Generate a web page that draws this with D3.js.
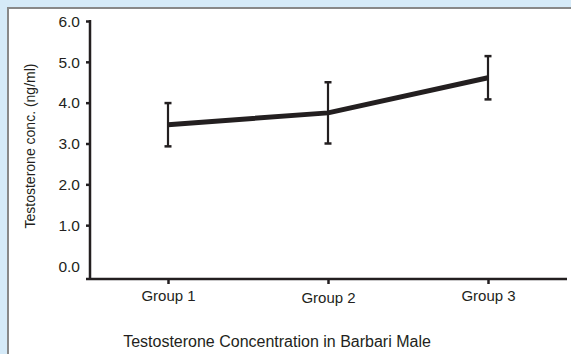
<!DOCTYPE html>
<html><head><meta charset="utf-8">
<script src="https://cdn.jsdelivr.net/npm/d3@7"></script>
<style>body{margin:0;background:#d5eaf8;}svg{display:block;}</style>
</head><body>
<script>
const groups = ["Group 1", "Group 2", "Group 3"];
const means = [3.46, 3.75, 4.61];
const errors = [0.53, 0.75, 0.53];
const yTicks = [0, 1, 2, 3, 4, 5, 6];
const yLabel = "Testosterone conc. (ng/ml)";
const title = "Testosterone Concentration in Barbari Male";

const W = 571, H = 354;
const svg = d3.select("body").append("svg").attr("width", W).attr("height", H);
svg.append("rect").attr("width", W).attr("height", H).attr("fill", "#d5eaf8");
svg.append("rect").attr("x", 8).attr("y", 8).attr("width", W).attr("height", H)
  .attr("fill", "#fff").attr("stroke", "#888", ).attr("stroke-width", 2);

const y = d3.scaleLinear().domain([0, 6]).range([266, 21]);
const x = d3.scalePoint().domain(groups).range([168, 488]);
const ink = "#231f20";
const font = "Liberation Sans, Arial, sans-serif";

// y axis
const yAxis = svg.append("g").attr("transform", "translate(90,0)")
  .call(d3.axisLeft(y).tickValues(yTicks).tickFormat(d3.format(".1f")).tickSize(4).tickPadding(6));
yAxis.select(".domain").remove();
yAxis.selectAll(".tick line").attr("stroke", ink).attr("stroke-width", 2.5)
  .filter(d => d === 0).remove();
yAxis.selectAll(".tick text").attr("font-family", font).attr("font-size", 15.5).attr("fill", ink)
  .attr("dy", "0.34em");
svg.append("line").attr("x1", 90).attr("x2", 90).attr("y1", y(6) - 1).attr("y2", 280)
  .attr("stroke", ink).attr("stroke-width", 2.5);

// x axis
const xAxis = svg.append("g").attr("transform", "translate(0,279)")
  .call(d3.axisBottom(x).tickSize(5).tickPadding(6));
xAxis.select(".domain").remove();
xAxis.selectAll(".tick line").attr("stroke", ink).attr("stroke-width", 2.5);
xAxis.selectAll(".tick text").attr("font-family", font).attr("font-size", 15).attr("fill", ink)
  .attr("dy", (d, i) => i === 1 ? "0.85em" : "0.71em");
svg.append("line").attr("x1", 86).attr("x2", 567).attr("y1", 279).attr("y2", 279)
  .attr("stroke", ink).attr("stroke-width", 2.5);

// error bars
const eb = svg.append("g");
groups.forEach((g, i) => {
  const cx = x(g), top = y(means[i] + errors[i]), bot = y(means[i] - errors[i]);
  eb.append("line").attr("x1", cx).attr("x2", cx).attr("y1", top).attr("y2", bot)
    .attr("stroke", ink).attr("stroke-width", 2.2);
  [top, bot].forEach(v => eb.append("line").attr("x1", cx - 3.5).attr("x2", cx + 3.5)
    .attr("y1", v).attr("y2", v).attr("stroke", ink).attr("stroke-width", 2.5));
});

// mean line
svg.append("path").datum(groups.map((g, i) => [x(g), y(means[i])]))
  .attr("d", d3.line()).attr("fill", "none").attr("stroke", ink).attr("stroke-width", 5)
  .attr("stroke-linejoin", "round");

// labels
svg.append("text").attr("transform", "translate(35,146) rotate(-90)").attr("text-anchor", "middle")
  .attr("font-family", font).attr("font-size", 14).attr("fill", ink).text(yLabel);
svg.append("text").attr("x", 277).attr("y", 347).attr("text-anchor", "middle")
  .attr("font-family", font).attr("font-size", 16).attr("fill", ink).text(title);
</script>
</body></html>
